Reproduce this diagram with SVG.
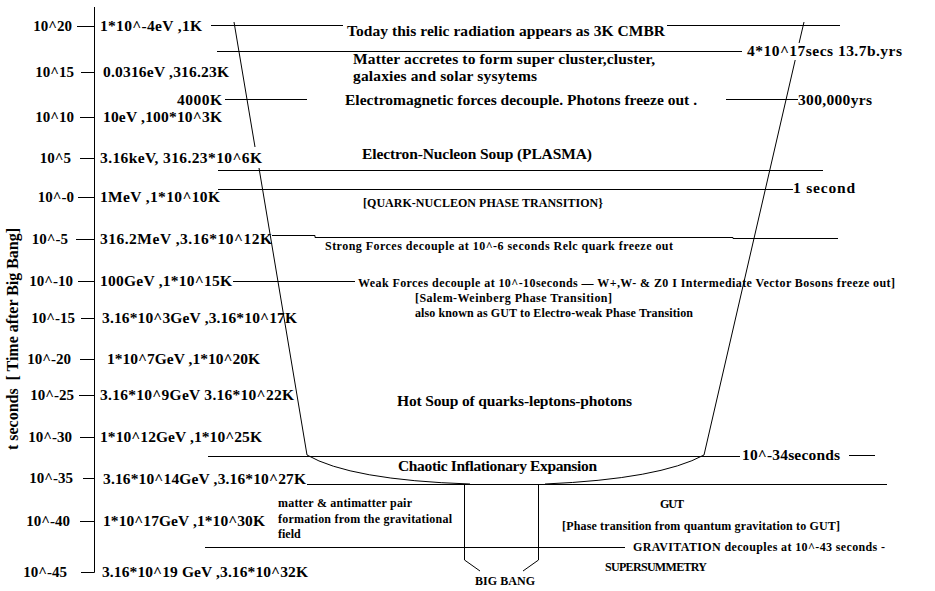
<svg xmlns="http://www.w3.org/2000/svg" width="935" height="591" viewBox="0 0 935 591" xml:space="preserve">
<style>
.ln{stroke:#000;stroke-width:1;fill:none}
.t{font-family:"Liberation Serif","Times New Roman",serif;font-weight:bold;fill:#000;white-space:pre}
.lb{font-size:15px;text-anchor:end}
.en{font-size:15.5px}
.m{font-size:15.5px}
.s{font-size:12px}
</style>
<rect width="935" height="591" fill="#fff"/>
<g id="axis">
<path class="ln" d="M94.5,7V572.5H81"/>
<path class="ln" d="M77,26.5H94M81,72.5H94M80,117.5H94M80,158.5H94M78,197.5H94M76,239.5H94M78,281.5H94M81,318.5H94M80,359.5H94M79,395.5H94M80,437.5H94M83,478.5H94M80,521.5H94"/>
<text class="t" x="18" y="339" font-size="16" transform="rotate(-90 18 339)" text-anchor="middle" textLength="222">t seconds  [ Time after Big Bang]</text>
</g>
<g id="time-labels" class="t lb">
<text x="72" y="31">10^20</text>
<text x="74" y="77">10^15</text>
<text x="74" y="122">10^10</text>
<text x="71" y="163">10^5</text>
<text x="74" y="202">10^-0</text>
<text x="68" y="244">10^-5</text>
<text x="73" y="286">10^-10</text>
<text x="75" y="323">10^-15</text>
<text x="71" y="364">10^-20</text>
<text x="74" y="400">10^-25</text>
<text x="72" y="442">10^-30</text>
<text x="73" y="483">10^-35</text>
<text x="70" y="526">10^-40</text>
<text x="67" y="577">10^-45</text>
</g>
<g id="energy-labels" class="t en">
<text x="100" y="31" textLength="102">1*10^-4eV ,1K</text>
<text x="103" y="77" textLength="126">0.0316eV ,316.23K</text>
<text x="103" y="122" textLength="119">10eV ,100*10^3K</text>
<text x="100" y="163" textLength="162">3.16keV, 316.23*10^6K</text>
<text x="100" y="202" textLength="120">1MeV ,1*10^10K</text>
<text x="100" y="244" textLength="172">316.2MeV ,3.16*10^12K</text>
<text x="100" y="286" textLength="132">100GeV ,1*10^15K</text>
<text x="102" y="323" textLength="195">3.16*10^3GeV ,3.16*10^17K</text>
<text x="107" y="364" textLength="153">1*10^7GeV ,1*10^20K</text>
<text x="100" y="400" textLength="194">3.16*10^9GeV  3.16*10^22K</text>
<text x="100" y="442" textLength="162">1*10^12GeV ,1*10^25K</text>
<text x="103" y="484" textLength="203">3.16*10^14GeV ,3.16*10^27K</text>
<text x="103" y="526" textLength="162">1*10^17GeV ,1*10^30K</text>
<text x="102" y="577" textLength="206">3.16*10^19 GeV ,3.16*10^32K</text>
</g>
<g id="connectors">
<path class="ln" d="M211,25.5H343M667,25.5H840"/>
<path class="ln" d="M217,51.5H742"/>
<path class="ln" d="M225,99.5H307M726,99.5H798"/>
<path class="ln" d="M218,170.5H823"/>
<path class="ln" d="M218,189.5H793"/>
<path class="ln" d="M272,235.5H315V237.5H733V238.5H838"/>
<path class="ln" d="M233,281.5H355"/>
<path class="ln" d="M208,456.5H740M849,455.5H875"/>
<path class="ln" d="M307,484.5H887"/>
<path class="ln" d="M205,547.5H625"/>
<path class="ln" d="M234,22L255,147M259,168L307,455"/>
<path class="ln" d="M804,22L799.1,43M795.2,60L704,455"/>
<path class="ln" d="M307,455Q350,480 470,484"/>
<path class="ln" d="M704,455Q660,479 545,484"/>
<path class="ln" d="M464.5,484V560L480,571M538.5,484V560L523,571"/>
</g>
<g id="era-labels" class="t">
<text class="m" x="347" y="36" textLength="318">Today this relic radiation appears as 3K CMBR</text>
<text class="m" x="353" y="64" textLength="302">Matter accretes to form super cluster,cluster,</text>
<text class="m" x="353" y="81" textLength="184">galaxies and solar sysytems</text>
<text class="m" x="345" y="105" textLength="352">Electromagnetic forces decouple. Photons freeze out .</text>
<text class="m" x="747" y="56" textLength="155">4*10^17secs  13.7b.yrs</text>
<text class="m" x="798" y="105" textLength="74">300,000yrs</text>
<text class="m" x="177" y="105" textLength="45">4000K</text>
<text class="m" x="362" y="159" textLength="230">Electron-Nucleon Soup (PLASMA)</text>
<text class="m" x="793" y="193" textLength="62">1 second</text>
<text class="s" x="363" y="207" textLength="240">[QUARK-NUCLEON PHASE TRANSITION}</text>
<text class="s" x="325" y="250" textLength="348">Strong Forces decouple at 10^-6 seconds   Relc quark freeze out</text>
<text class="s" x="358" y="287" textLength="537">Weak Forces decouple at 10^-10seconds — W+,W- &amp; Z0 I Intermediate Vector Bosons freeze out]</text>
<text class="s" x="415" y="302" textLength="197">[Salem-Weinberg Phase Transition]</text>
<text class="s" x="415" y="317" textLength="278">also known as GUT to Electro-weak Phase Transition</text>
<text class="m" x="397" y="406" textLength="235">Hot Soup of quarks-leptons-photons</text>
<text class="m" x="398" y="471" textLength="199">Chaotic Inflationary Expansion</text>
<text class="m" x="742" y="460" textLength="98">10^-34seconds</text>
<text class="s" x="278" y="507" textLength="134">matter &amp; antimatter pair</text>
<text class="s" x="278" y="523" textLength="174">formation from the gravitational</text>
<text class="s" x="278" y="538">field</text>
<text class="s" x="660" y="508" textLength="24">GUT</text>
<text class="s" x="562" y="530" textLength="278">[Phase transition from quantum gravitation to GUT]</text>
<text class="s" x="633" y="551" textLength="252">GRAVITATION decouples at 10^-43 seconds -</text>
<text class="s" x="605" y="571" textLength="102">SUPERSUMMETRY</text>
<text class="s" x="475" y="585" textLength="60">BIG BANG</text>
</g>
</svg>
